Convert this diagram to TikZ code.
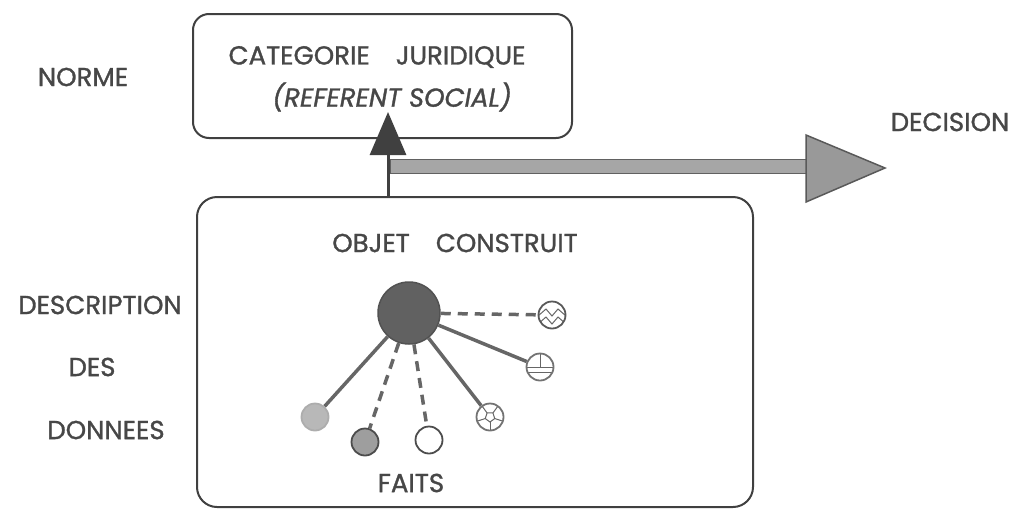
\documentclass[tikz,border=0pt]{standalone}
\usepackage{fontspec}
\setmainfont{Poppins}[FakeBold=1.2]
\usepackage{tikz}
\usetikzlibrary{calc}
\usetikzlibrary{arrows.meta}
\usetikzlibrary{positioning}

\begin{document}
\begin{tikzpicture}[x=1pt,y=-1pt]
    \tikzstyle{every node}=[text=black!72,font=\fontsize{26}{30}\selectfont]
    \tikzstyle{cadre}=[draw=black!75,line width=2pt,rounded corners=16pt]
    \tikzstyle{fait}=[circle,draw=black!70,line width=1.8pt,minimum size=27pt,inner sep=0pt]
    \tikzstyle{lien}=[draw=black!60,line width=3.5pt]
    \tikzstyle{pointille}=[lien,dash pattern=on 10pt off 7pt]
    \tikzstyle{motif}=[black!60,line width=1pt,shift={(path picture bounding box.center)}]

    \useasboundingbox (0,0) rectangle (1020,509);

    \node[cadre,minimum width=379pt,minimum height=124pt] (categorie) at (382.5,76) {};
    \node (juridique) at (377,57) {CATEGORIE\quad JURIDIQUE};
    \node[font=\fontsize{26}{30}\selectfont\itshape] (referent) at (392,97) {(REFERENT SOCIAL)};
    \node (norme) at (83,77) {NORME};

    \node[cadre,minimum width=556pt,minimum height=310pt,rounded corners=20pt] (construit) at (475,352) {};
    \node (objetconstruit) at (455,243) {OBJET\quad CONSTRUIT};
    \node (faits) at (411,483) {FAITS};

    \node (description) at (100,305) {DESCRIPTION};
    \node (des) at (92,367) {DES};
    \node (donnees) at (106,430) {DONNEES};
    \node (decision) at (950,122) {DECISION};

    % objet et faits
    \node[circle,fill=black!62,draw=black!68,line width=1.5pt,minimum size=62pt,inner sep=0pt] (objet) at (409,313) {};
    \node[fait,fill=black!28,draw=black!32] (f1) at (315,417) {};
    \node[fait,fill=black!38] (f2) at (365,442) {};
    \node[fait,fill=white] (f3) at (429,440) {};
    \node[fait,draw=black!55,path picture={
        \draw[motif] (90:5) -- (162:5) -- (234:5) -- (306:5) -- (18:5) -- cycle;
        \foreach \a in {90,162,234,306,18} \draw[motif] (\a:5) -- (\a:14);}] (f4) at (490,417) {};
    \node[fait,draw=black!55,path picture={
        \draw[motif] (-14,0) -- (14,0) (0,-14) -- (0,0) (-14,5) -- (14,5);}] (f5) at (540,367) {};
    \node[fait,draw=black!65,path picture={
        \draw[motif] (-14,1) -- (-6,-6) -- (0,1) -- (6,-6) -- (14,1);
        \draw[motif] (-14,9) -- (-6,2) -- (0,9) -- (6,2) -- (14,9);}] (f6) at (552,315) {};

    \foreach \f/\s in {f1/lien,f2/pointille,f3/pointille,f4/lien,f5/lien,f6/pointille}
      \draw[\s] (objet) -- (\f) ;

    % fleches
    \coordinate (tige) at (388,112) ;
    \coordinate (depart) at (390,166) ;
    \coordinate (pointe) at (885,168) ;

    \fill[black!35,draw=black!62,line width=1pt] ($(depart)+(0,-6.5)$) rectangle ($(pointe)+(-79,5.5)$) ;
    \filldraw[fill=black!40,draw=black!65,line width=1.5pt] ($(pointe)+(-79,-33)$) -- (pointe) -- ($(pointe)+(-79,34)$) -- cycle ;
    \draw[black!75,line width=3pt,-{Triangle[length=43pt,width=36pt]}] (construit.north -| tige) -- (tige) ;

\end{tikzpicture}
\end{document}
